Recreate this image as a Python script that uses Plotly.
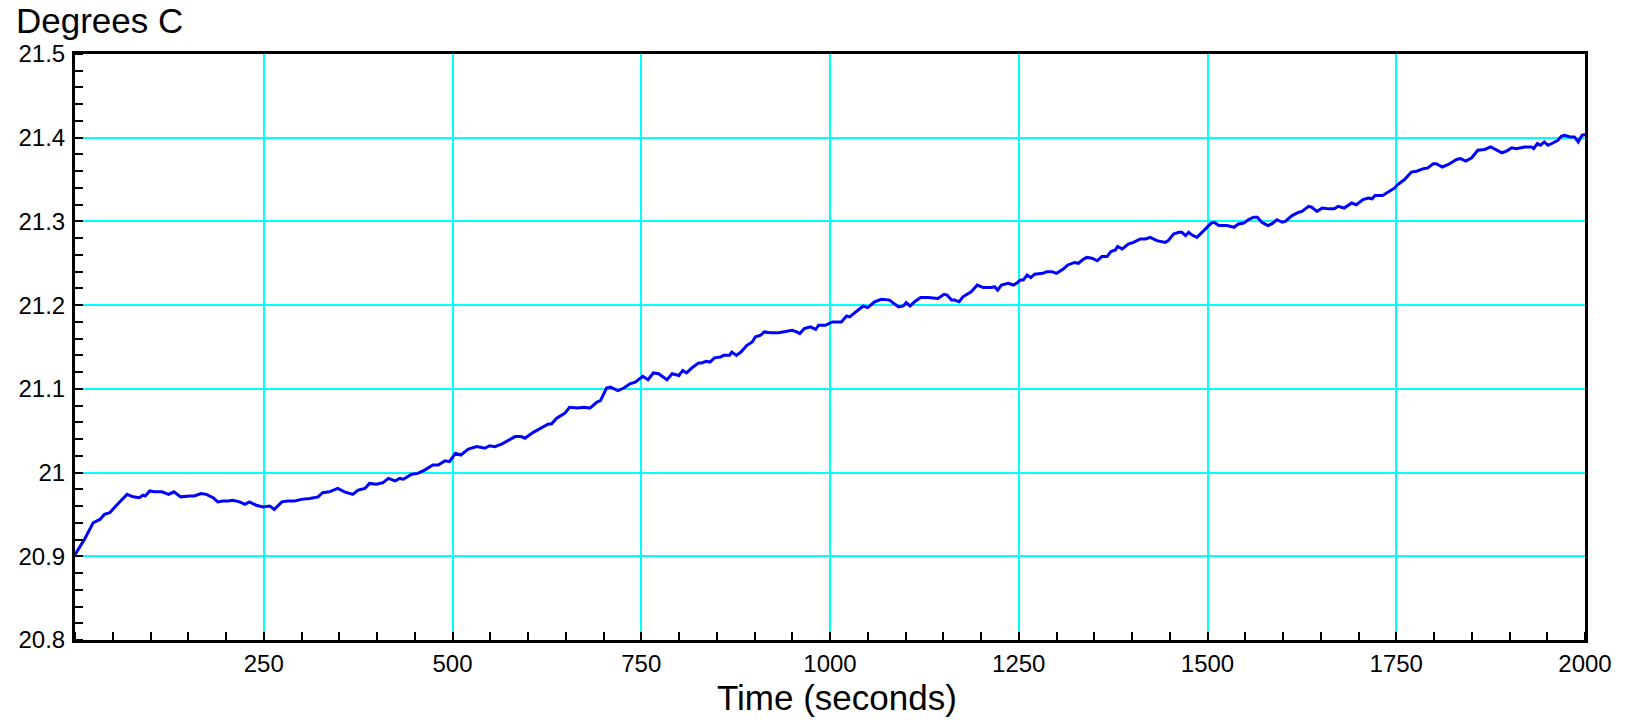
import plotly.graph_objects as go

time_s = [0, 13, 24, 33, 39, 46, 55, 69, 77, 85, 90, 93, 99, 105, 115, 124, 131, 140, 152, 158, 167, 174,
          183, 189, 196, 203, 209, 218, 225, 231, 240, 249, 258, 264, 274, 282, 291, 300, 311, 322, 328,
          337, 348, 357, 368, 375, 384, 390, 399, 408, 415, 424, 430, 435, 446, 454, 463, 474, 481, 490,
          496, 504, 511, 521, 532, 543, 549, 556, 565, 574, 583, 591, 596, 607, 618, 627, 631, 638, 649,
          655, 666, 674, 682, 691, 696, 704, 709, 719, 727, 735, 742, 752, 759, 766, 773, 784, 791, 800,
          805, 810, 817, 826, 830, 836, 841, 847, 855, 859, 867, 870, 876, 882, 890, 897, 901, 908, 913,
          921, 932, 943, 950, 956, 960, 966, 974, 981, 985, 994, 1003, 1015, 1022, 1026, 1035, 1044, 1050,
          1059, 1068, 1079, 1086, 1091, 1097, 1101, 1106, 1112, 1120, 1130, 1143, 1151, 1155, 1161, 1165,
          1171, 1176, 1187, 1195, 1203, 1214, 1218, 1222, 1227, 1236, 1243, 1247, 1252, 1256, 1261, 1266,
          1271, 1282, 1287, 1294, 1300, 1309, 1315, 1324, 1329, 1336, 1340, 1347, 1354, 1360, 1367, 1372,
          1378, 1381, 1387, 1395, 1402, 1411, 1418, 1424, 1433, 1444, 1448, 1455, 1462, 1466, 1471, 1475,
          1479, 1486, 1493, 1498, 1505, 1509, 1515, 1526, 1535, 1541, 1548, 1554, 1561, 1566, 1572, 1580,
          1585, 1592, 1599, 1603, 1612, 1621, 1625, 1634, 1638, 1645, 1652, 1661, 1668, 1673, 1681, 1691,
          1697, 1706, 1713, 1718, 1722, 1732, 1741, 1748, 1752, 1761, 1770, 1777, 1786, 1792, 1799, 1803,
          1811, 1819, 1830, 1835, 1842, 1850, 1858, 1867, 1875, 1883, 1890, 1896, 1903, 1909, 1920, 1929,
          1932, 1937, 1941, 1946, 1951, 1958, 1964, 1969, 1973, 1980, 1986, 1991, 1996, 2000]

temp_c = [20.902, 20.921, 20.940, 20.944, 20.950, 20.952, 20.961, 20.974, 20.971, 20.970, 20.973, 20.972,
          20.978, 20.977, 20.977, 20.974, 20.977, 20.971, 20.972, 20.972, 20.975, 20.974, 20.970, 20.965,
          20.966, 20.966, 20.967, 20.965, 20.962, 20.965, 20.961, 20.959, 20.960, 20.956, 20.965, 20.966,
          20.966, 20.968, 20.969, 20.971, 20.976, 20.977, 20.981, 20.977, 20.974, 20.979, 20.981, 20.987,
          20.986, 20.988, 20.993, 20.990, 20.993, 20.992, 20.998, 20.999, 21.003, 21.009, 21.009, 21.014,
          21.013, 21.023, 21.021, 21.028, 21.031, 21.029, 21.032, 21.031, 21.034, 21.039, 21.043, 21.043,
          21.041, 21.048, 21.053, 21.058, 21.058, 21.065, 21.071, 21.078, 21.077, 21.078, 21.077, 21.084,
          21.086, 21.101, 21.102, 21.098, 21.101, 21.106, 21.108, 21.115, 21.111, 21.119, 21.118, 21.111,
          21.118, 21.116, 21.122, 21.119, 21.125, 21.131, 21.131, 21.133, 21.132, 21.137, 21.138, 21.140,
          21.140, 21.144, 21.140, 21.144, 21.152, 21.156, 21.162, 21.164, 21.168, 21.167, 21.167, 21.169,
          21.170, 21.168, 21.166, 21.172, 21.174, 21.171, 21.176, 21.176, 21.180, 21.180, 21.187, 21.186,
          21.193, 21.199, 21.197, 21.204, 21.207, 21.206, 21.201, 21.198, 21.199, 21.203, 21.199, 21.204,
          21.209, 21.209, 21.208, 21.213, 21.212, 21.206, 21.206, 21.204, 21.210, 21.216, 21.224, 21.221,
          21.221, 21.222, 21.218, 21.224, 21.226, 21.224, 21.226, 21.230, 21.230, 21.236, 21.233, 21.237,
          21.238, 21.240, 21.240, 21.238, 21.243, 21.248, 21.251, 21.250, 21.255, 21.257, 21.256, 21.253,
          21.258, 21.258, 21.264, 21.266, 21.270, 21.267, 21.273, 21.275, 21.279, 21.279, 21.281, 21.277,
          21.275, 21.277, 21.285, 21.287, 21.287, 21.283, 21.287, 21.284, 21.281, 21.287, 21.291, 21.298,
          21.299, 21.295, 21.295, 21.293, 21.297, 21.298, 21.302, 21.305, 21.305, 21.299, 21.295, 21.297,
          21.302, 21.299, 21.300, 21.307, 21.311, 21.312, 21.318, 21.317, 21.312, 21.316, 21.315, 21.315,
          21.318, 21.316, 21.322, 21.320, 21.326, 21.328, 21.327, 21.331, 21.331, 21.336, 21.340, 21.344,
          21.350, 21.359, 21.360, 21.363, 21.364, 21.369, 21.369, 21.365, 21.368, 21.374, 21.375, 21.372,
          21.376, 21.385, 21.386, 21.389, 21.385, 21.382, 21.384, 21.388, 21.387, 21.389, 21.389, 21.387,
          21.393, 21.391, 21.395, 21.391, 21.394, 21.397, 21.402, 21.403, 21.401, 21.401, 21.395, 21.403,
          21.404]

x_tick_vals = [250, 500, 750, 1000, 1250, 1500, 1750, 2000]
x_tick_text = ["250", "500", "750", "1000", "1250", "1500", "1750", "2000"]
y_tick_vals = [20.8, 20.9, 21.0, 21.1, 21.2, 21.3, 21.4, 21.5]
y_tick_text = ["20.8", "20.9", "21", "21.1", "21.2", "21.3", "21.4", "21.5"]

FONT = "Liberation Sans, Arial, Helvetica, sans-serif"
W, H = 1627, 720
ML, MR, MT, MB = 75, 42, 54, 80
PW, PH = W - ML - MR, H - MT - MB

fig = go.Figure()
fig.add_trace(go.Scatter(
    x=time_s, y=temp_c, mode="lines",
    line=dict(color="#0000FF", width=3),
    hoverinfo="x+y", showlegend=False,
))

fig.update_layout(
    width=W, height=H,
    margin=dict(l=ML, r=MR, t=MT, b=MB, autoexpand=False),
    paper_bgcolor="white", plot_bgcolor="white",
    font=dict(family=FONT, color="black", size=24),
    annotations=[
        dict(text="Degrees C", xref="paper", yref="paper",
             x=(14 - ML) / PW, y=1 + (MT - 21) / PH, xanchor="left", yanchor="middle",
             showarrow=False, font=dict(family=FONT, size=35, color="black")),
        dict(text="Time (seconds)", xref="paper", yref="paper",
             x=(837 - ML) / PW, y=-(697 - (H - MB)) / PH, xanchor="center", yanchor="middle",
             showarrow=False, font=dict(family=FONT, size=35, color="black")),
    ],
)

fig.update_xaxes(
    range=[0, 2000], tickmode="array", tickvals=x_tick_vals, ticktext=x_tick_text,
    ticks="", showgrid=True, gridcolor="#00FFFF", gridwidth=2, automargin=False,
    showline=True, linecolor="black", linewidth=3, mirror=True, zeroline=False,
    tickfont=dict(family=FONT, size=24, color="black"), ticklabelstandoff=0,
    minor=dict(tickmode="linear", tick0=0, dtick=50, ticks="inside", ticklen=8,
               tickwidth=1.5, tickcolor="black", showgrid=False),
)
fig.update_yaxes(
    range=[20.8, 21.5], tickmode="array", tickvals=y_tick_vals, ticktext=y_tick_text,
    ticks="", showgrid=True, gridcolor="#00FFFF", gridwidth=2, automargin=False,
    showline=True, linecolor="black", linewidth=3, mirror=True, zeroline=False,
    tickfont=dict(family=FONT, size=24, color="black"), ticklabelstandoff=2,
    minor=dict(tickmode="linear", tick0=20.8, dtick=0.02, ticks="inside", ticklen=8,
               tickwidth=1.5, tickcolor="black", showgrid=False),
)

# remove the default 8px page margin so the figure fills the window exactly
fig.write_html(
    "out.html",
    config={"displayModeBar": False},
    post_script="document.body.style.margin='0';document.documentElement.style.overflow='hidden';",
)
